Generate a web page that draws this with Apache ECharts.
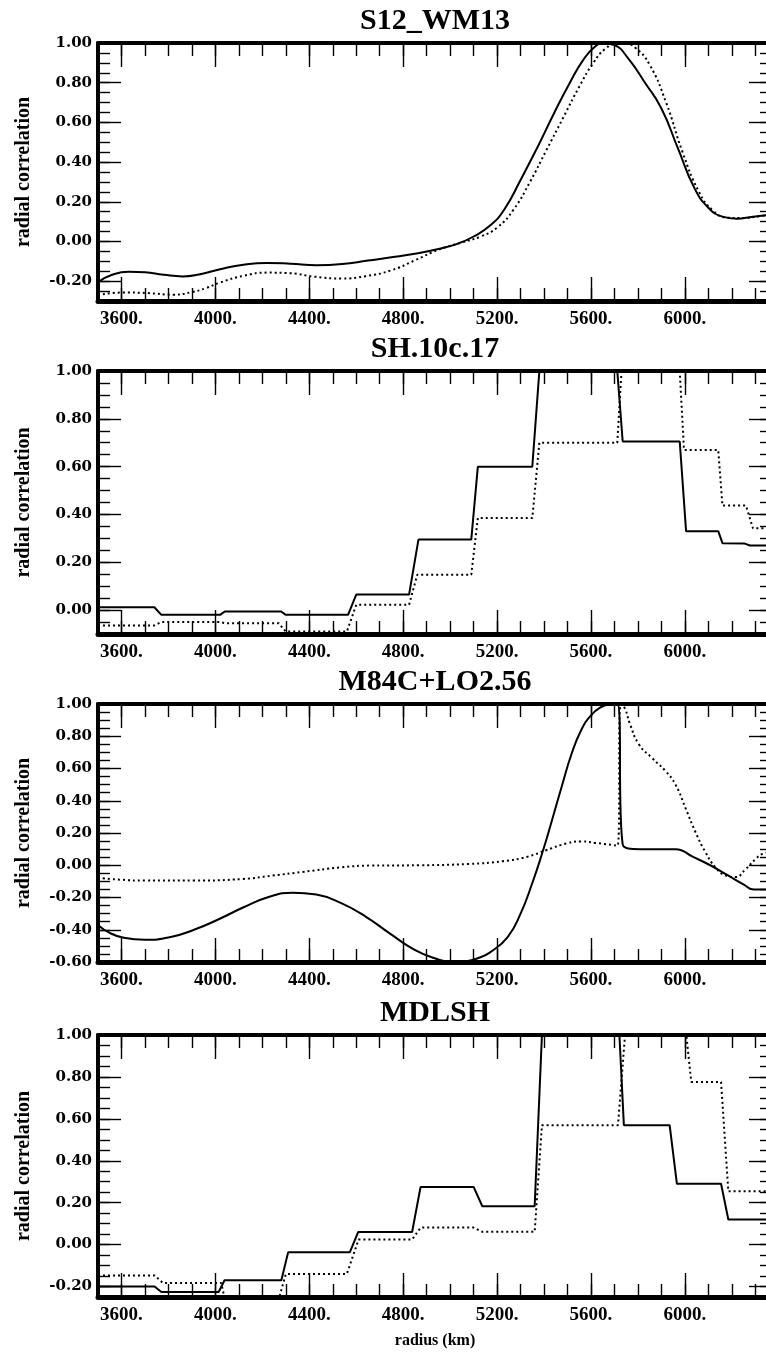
<!DOCTYPE html>
<html><head><meta charset="utf-8">
<script src="https://cdn.jsdelivr.net/npm/echarts@6/dist/echarts.min.js"></script>
<style>html,body{margin:0;padding:0;background:#fff}#c{width:766px;height:1355px}</style>
</head><body><div id="c"></div>
<script>
// ---- text / ticks ----
const panelTitles = ['S12_WM13', 'SH.10c.17', 'M84C+LO2.56', 'MDLSH'];
const xLabelTicks = [3600, 4000, 4400, 4800, 5200, 5600, 6000];
const xMinorTicks = [3600,3700,3800,3900,4000,4100,4200,4300,4400,4500,4600,4700,4800,4900,5000,5100,5200,5300,5400,5500,5600,5700,5800,5900,6000,6100,6200,6300];
const yRanges = [[-0.3, 1.0], [-0.1, 1.0], [-0.6, 1.0], [-0.25, 1.0]];
const yLabelTicks = [
  [-0.2, 0, 0.2, 0.4, 0.6, 0.8, 1.0],
  [0, 0.2, 0.4, 0.6, 0.8, 1.0],
  [-0.6, -0.4, -0.2, 0, 0.2, 0.4, 0.6, 0.8, 1.0],
  [-0.2, 0, 0.2, 0.4, 0.6, 0.8, 1.0]
];

// ---- data: [radius km, correlation] ----
const s12Solid = [[3500,-0.205],[3560,-0.168],[3630,-0.152],[3700,-0.155],[3780,-0.168],[3860,-0.176],[3930,-0.166],[4020,-0.14],[4120,-0.117],[4220,-0.108],[4320,-0.112],[4430,-0.12],[4540,-0.114],[4650,-0.096],[4750,-0.08],[4850,-0.062],[4950,-0.038],[5030,-0.012],[5100,0.025],[5170,0.08],[5230,0.16],[5300,0.31],[5370,0.47],[5440,0.64],[5510,0.80],[5570,0.92],[5620,0.985],[5655,1.0],[5700,0.99],[5760,0.92],[5830,0.80],[5900,0.67],[5970,0.47],[6040,0.27],[6100,0.17],[6160,0.125],[6220,0.115],[6290,0.125],[6371,0.135]];
const s12Dotted = [[3500,-0.27],[3610,-0.257],[3710,-0.26],[3820,-0.268],[3900,-0.255],[3960,-0.235],[4020,-0.207],[4120,-0.173],[4220,-0.157],[4320,-0.16],[4420,-0.177],[4540,-0.187],[4640,-0.175],[4750,-0.145],[4850,-0.095],[4950,-0.042],[5050,-0.005],[5130,0.025],[5200,0.07],[5270,0.16],[5340,0.30],[5410,0.46],[5480,0.62],[5550,0.78],[5610,0.90],[5660,0.97],[5710,0.998],[5740,1.0],[5790,0.975],[5850,0.89],[5920,0.70],[5990,0.45],[6060,0.25],[6120,0.155],[6180,0.12],[6250,0.118],[6320,0.128],[6371,0.135]];
const sh10Solid = [[3500,0.012],[3740,0.012],[3770,-0.02],[4020,-0.02],[4040,-0.006],[4280,-0.006],[4300,-0.02],[4565,-0.02],[4600,0.065],[4825,0.065],[4865,0.295],[5090,0.295],[5118,0.6],[5350,0.6],[5380,1.0],[5712,1.0],[5735,0.705],[5978,0.705],[6005,0.33],[6142,0.33],[6160,0.28],[6255,0.278],[6277,0.27],[6371,0.27]];
const sh10Dotted = [[3500,-0.064],[3740,-0.064],[3770,-0.05],[4020,-0.05],[4040,-0.055],[4270,-0.055],[4300,-0.09],[4560,-0.09],[4600,0.022],[4825,0.022],[4860,0.148],[5090,0.148],[5118,0.385],[5350,0.385],[5380,0.7],[5712,0.7],[5730,1.0],[5978,1.0],[5996,0.67],[6142,0.67],[6160,0.437],[6260,0.437],[6290,0.342],[6371,0.342]];
const m84Solid = [[3500,-0.37],[3550,-0.42],[3610,-0.45],[3700,-0.462],[3805,-0.447],[3909,-0.4],[4014,-0.335],[4118,-0.262],[4230,-0.195],[4330,-0.17],[4430,-0.182],[4536,-0.235],[4640,-0.318],[4744,-0.424],[4849,-0.525],[4940,-0.58],[5010,-0.6],[5070,-0.595],[5120,-0.575],[5170,-0.54],[5245,-0.445],[5300,-0.3],[5350,-0.11],[5392,0.074],[5433,0.275],[5475,0.487],[5517,0.69],[5559,0.84],[5600,0.93],[5642,0.98],[5680,0.998],[5712,1.0],[5735,0.13],[5810,0.1],[5960,0.1],[6037,0.05],[6108,0.0],[6180,-0.06],[6251,-0.12],[6294,-0.15],[6371,-0.15]];
const m84Dotted = [[3500,-0.078],[3600,-0.09],[3701,-0.095],[3909,-0.095],[4118,-0.085],[4244,-0.064],[4369,-0.042],[4536,-0.013],[4661,-0.002],[4870,0.0],[5079,0.008],[5225,0.025],[5329,0.053],[5412,0.095],[5496,0.135],[5559,0.148],[5621,0.138],[5713,0.122],[5727,1.0],[5745,0.97],[5765,0.88],[5804,0.75],[5860,0.665],[5917,0.585],[5960,0.5],[6003,0.353],[6045,0.206],[6088,0.08],[6131,-0.015],[6173,-0.063],[6216,-0.073],[6258,-0.025],[6301,0.038],[6330,0.07],[6371,0.08]];
const mdlshSolid = [[3500,-0.2],[3741,-0.2],[3770,-0.226],[4014,-0.226],[4039,-0.17],[4281,-0.17],[4310,-0.036],[4573,-0.036],[4608,0.06],[4838,0.06],[4874,0.275],[5100,0.275],[5137,0.183],[5360,0.183],[5391,1.0],[5721,1.0],[5740,0.57],[5935,0.57],[5966,0.29],[6154,0.29],[6185,0.12],[6371,0.12]];
const mdlshDotted = [[3500,-0.147],[3741,-0.147],[3776,-0.183],[4025,-0.183],[4040,-0.26],[4270,-0.26],[4300,-0.14],[4560,-0.14],[4610,0.024],[4838,0.024],[4874,0.081],[5100,0.081],[5137,0.061],[5360,0.061],[5391,0.57],[5715,0.57],[5745,1.0],[6006,1.0],[6027,0.776],[6154,0.776],[6185,0.254],[6371,0.254]];

const panelSeries = [[s12Solid, s12Dotted], [sh10Solid, sh10Dotted], [m84Solid, m84Dotted], [mdlshSolid, mdlshDotted]];
const panelSmooth = [0.5, false, 0.5, false];

// ---- layout ----
const grids = [
  {left: 98, top: 43, width: 674, height: 258},
  {left: 98, top: 371, width: 674, height: 263},
  {left: 98, top: 704, width: 674, height: 258},
  {left: 98, top: 1035, width: 674, height: 262}
].map(g => Object.assign(g, {outerBoundsMode: 'none', containLabel: false}));
const X_MIN = 3500, X_MAX = 6371;
const serif = 'Liberation Serif';

function stepTicks(min, max, step) {
  const out = [];
  for (let k = Math.ceil(min / step - 1e-9); k * step <= max + 1e-9; k++) out.push(+(k * step).toFixed(2));
  return out;
}

const xAxis = [], yAxis = [], series = [];
grids.forEach((g, i) => {
  const [yMin, yMax] = yRanges[i];
  const yMinor = stepTicks(yMin, yMax, 0.05);
  const yMajor = stepTicks(yMin, yMax, 0.2);
  const base = {gridIndex: i, type: 'value', min: X_MIN, max: X_MAX, splitLine: {show: false}};
  const line = w => ({onZero: false, lineStyle: {color: '#000', width: w}});
  const tick = (len, vals) => ({inside: true, length: len, customValues: vals, lineStyle: {color: '#000', width: 1.4}});
  const last = i === grids.length - 1;
  xAxis.push(Object.assign({}, base, {
    position: 'bottom', axisLine: line(5), axisTick: tick(13, xMinorTicks),
    axisLabel: {customValues: xLabelTicks, formatter: v => v + '.', margin: 9, color: '#000',
      fontFamily: serif, fontWeight: 'bold', fontSize: 19},
    name: last ? 'radius (km)' : '', nameLocation: 'middle', nameGap: 36,
    nameTextStyle: {color: '#000', fontFamily: serif, fontWeight: 'bold', fontSize: 16}
  }));
  xAxis.push(Object.assign({}, base, {position: 'bottom', axisLine: {show: false, onZero: false},
    axisTick: tick(24, xLabelTicks), axisLabel: {show: false}}));
  xAxis.push(Object.assign({}, base, {
    position: 'top', axisLine: line(4), axisTick: tick(13, xMinorTicks), axisLabel: {show: false},
    name: panelTitles[i], nameLocation: 'middle', nameGap: 7,
    nameTextStyle: {color: '#000', fontFamily: serif, fontWeight: 'bold', fontSize: 30}
  }));
  xAxis.push(Object.assign({}, base, {position: 'top', axisLine: {show: false, onZero: false},
    axisTick: tick(24, xLabelTicks), axisLabel: {show: false}}));

  const ybase = {gridIndex: i, type: 'value', min: yMin, max: yMax, splitLine: {show: false}};
  yAxis.push(Object.assign({}, ybase, {
    position: 'left', axisLine: line(4), axisTick: tick(12, yMinor),
    axisLabel: {customValues: yLabelTicks[i], formatter: v => v.toFixed(2), margin: 6, color: '#000',
      fontFamily: 'DejaVu Serif', fontWeight: 'bold', fontSize: 15},
    name: 'radial correlation', nameLocation: 'middle', nameRotate: 90, nameGap: 64,
    nameTextStyle: {color: '#000', fontFamily: serif, fontWeight: 'bold', fontSize: 20}
  }));
  yAxis.push(Object.assign({}, ybase, {position: 'left', axisLine: {show: false, onZero: false},
    axisTick: tick(23, yMajor), axisLabel: {show: false}}));
  yAxis.push(Object.assign({}, ybase, {position: 'right', axisLine: line(4), axisTick: tick(12, yMinor), axisLabel: {show: false}}));
  yAxis.push(Object.assign({}, ybase, {position: 'right', axisLine: {show: false, onZero: false},
    axisTick: tick(23, yMajor), axisLabel: {show: false}}));

  const [solid, dotted] = panelSeries[i];
  const common = {type: 'line', xAxisIndex: 4 * i, yAxisIndex: 4 * i, showSymbol: false, symbol: 'none',
    smooth: panelSmooth[i], clip: true, silent: true};
  series.push(Object.assign({}, common, {name: panelTitles[i] + ' solid', data: solid,
    lineStyle: {color: '#000', width: 2}}));
  series.push(Object.assign({}, common, {name: panelTitles[i] + ' dotted', data: dotted,
    lineStyle: {color: '#000', width: 2, type: [2, 3]}}));
});

const chart = echarts.init(document.getElementById('c'), null, {renderer: 'canvas'});
chart.setOption({animation: false, backgroundColor: '#fff', grid: grids, xAxis, yAxis, series});
</script>
</body></html>
